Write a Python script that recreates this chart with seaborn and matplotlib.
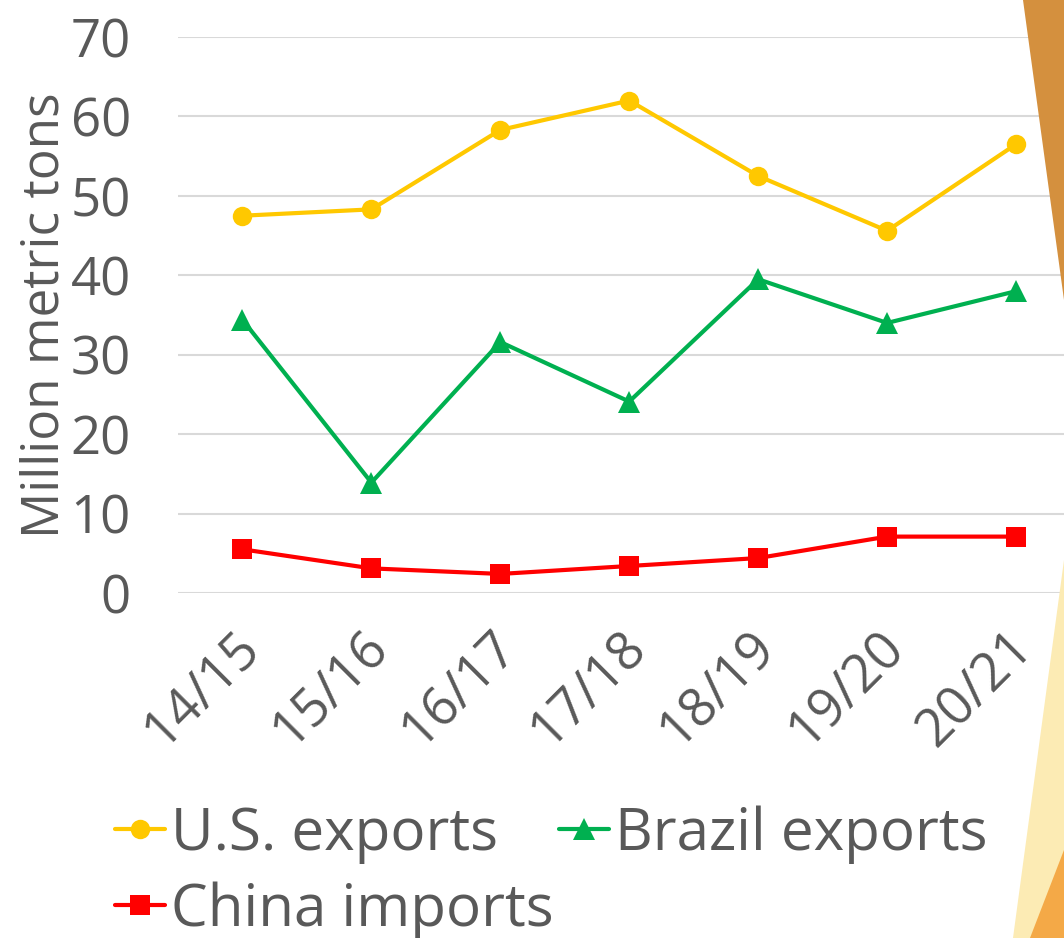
import matplotlib
matplotlib.use("Agg")
import matplotlib.pyplot as plt
import matplotlib.transforms as mtransforms
import seaborn as sns
import pandas as pd
from matplotlib.patches import Polygon

seasons = ["14/15", "15/16", "16/17", "17/18", "18/19", "19/20", "20/21"]
us_exports = [47.5, 48.3, 58.3, 62.0, 52.5, 45.6, 56.5]
brazil_exports = [34.4, 13.9, 31.6, 24.1, 39.5, 34.0, 38.0]
china_imports = [5.5, 3.1, 2.4, 3.4, 4.4, 7.1, 7.1]
series_names = ["U.S. exports", "Brazil exports", "China imports"]
y_ticks = [0, 10, 20, 30, 40, 50, 60, 70]

sns.set_theme(style="white")
plt.rcParams["font.family"] = ["Open Sans", "DejaVu Sans"]

fig = plt.figure(figsize=(10.64, 9.38), dpi=100)
fig.patch.set_facecolor("white")

# decorative slide background shapes (right edge)
fig.patches.append(Polygon([[1023/1064, 1], [1, 1], [1, 1 - 300/938]], closed=True,
                           transform=fig.transFigure, facecolor="#D4903E", edgecolor="none", zorder=0))
fig.patches.append(Polygon([[1, 1 - 560/938], [1, 0], [1013/1064, 0]], closed=True,
                           transform=fig.transFigure, facecolor="#FCEBB4", edgecolor="none", zorder=0))
fig.patches.append(Polygon([[1, 1 - 850/938], [1, 0], [1030/1064, 0]], closed=True,
                           transform=fig.transFigure, facecolor="#F4A947", edgecolor="none", zorder=0))

ax = fig.add_axes([178/1064, 1 - 593/938, (1080.5 - 178)/1064, (593 - 37)/938])
ax.set_facecolor("none")

df = pd.DataFrame({"season": seasons, "x": range(len(seasons)),
                   series_names[0]: us_exports,
                   series_names[1]: brazil_exports,
                   series_names[2]: china_imports})

colors = ["#FFC800", "#00B050", "#FF0000"]
markers = ["o", "^", "s"]
sizes = [14, 16, 14]
for name, c, m, s in zip(series_names, colors, markers, sizes):
    sns.lineplot(data=df, x="x", y=name, ax=ax, color=c, marker=m, markersize=s,
                 markeredgewidth=0, linewidth=3, label=name, clip_on=False, zorder=3)

ax.set_xlim(-0.5, len(seasons) - 0.5)
ax.set_ylim(0, 70)
ax.set_yticks(y_ticks)
ax.set_yticklabels([str(v) for v in y_ticks])
ax.set_xticks(range(len(seasons)))
ax.set_xticklabels(seasons, rotation=45, ha="right", rotation_mode="anchor")
ax.tick_params(axis="both", length=0, labelsize=38, colors="#595959")
ax.tick_params(axis="y", pad=34)
ax.tick_params(axis="x", pad=20)
shift = mtransforms.ScaledTranslation(-10/100, 0, fig.dpi_scale_trans)
for lbl in ax.get_xticklabels():
    lbl.set_transform(lbl.get_transform() + shift)
ax.yaxis.grid(True, color="#D9D9D9", linewidth=1.5)
ax.xaxis.grid(False)
for sp in ax.spines.values():
    sp.set_visible(False)
ax.set_xlabel("")
ax.set_ylabel("Million metric tons", fontsize=37, color="#595959", labelpad=0)

ax.legend_.remove()
handles, labels = ax.get_legend_handles_labels()
order = [0, 2, 1]
leg = fig.legend([handles[i] for i in order], [labels[i] for i in order],
                 loc="upper left", bbox_to_anchor=(92/1064, 1 - 782/938),
                 ncol=2, frameon=False, fontsize=42, handlelength=0.85, handletextpad=0.1,
                 columnspacing=0.1, labelspacing=0.3, borderaxespad=0)
for t in leg.get_texts():
    t.set_color("#595959")

fig.savefig("out.png", dpi=100)
